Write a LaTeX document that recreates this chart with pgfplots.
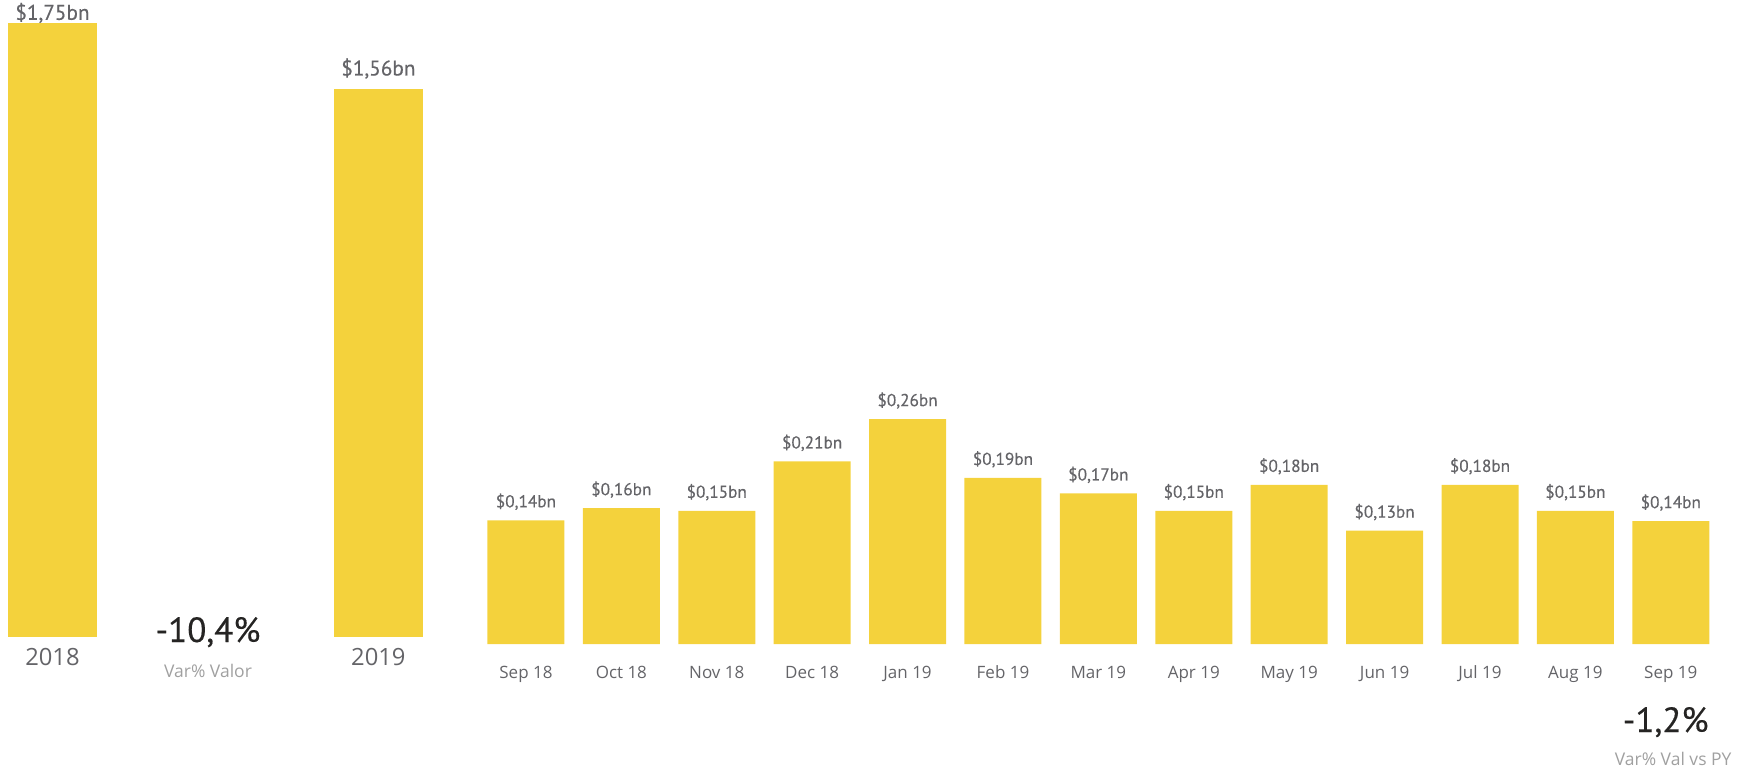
\documentclass[border=0pt]{standalone}
\usepackage{pgfplots}
\pgfplotsset{compat=1.18}
\usepackage{fontspec}
\setmainfont{Open Sans}
\newfontfamily\din{PT Sans}[FakeBold=0.4]
\definecolor{baryel}{RGB}{244,210,60}
\definecolor{lblgray}{RGB}{100,100,104}
\definecolor{darktxt}{RGB}{37,36,35}
\definecolor{lighttxt}{RGB}{160,160,160}
\begin{document}
\begin{tikzpicture}[x=1pt,y=1pt]
\useasboundingbox (0,0) rectangle (698.4,308.4);
% ---- yearly totals ----
\begin{axis}[
  at={(0pt,53.6pt)}, anchor=south west, scale only axis,
  width=176pt, height=252.7pt,
  xmin=-0.161, xmax=1.189, ymin=0, ymax=1.8,
  ybar, bar width=35.6pt,
  axis line style={draw=none}, tick style={draw=none},
  ytick=\empty, xtick={0,1}, xticklabels={2018,2019},
  xticklabel style={anchor=base, yshift=-7.1pt, inner sep=0pt, font=\fontsize{9.5}{11}\selectfont, text=lblgray},
  /pgf/number format/assume math mode=true,
  nodes near coords={\$\pgfmathprintnumber[fixed,fixed zerofill,precision=2,use comma,assume math mode=true]{\pgfplotspointmeta}bn},
  nodes near coords style={anchor=base, inner sep=0pt, font=\din\fontsize{8.5}{10}\selectfont, text=lblgray},
  clip=false,
]
\addplot[fill=baryel, draw=none, bar shift=0pt, every node near coord/.append style={yshift=1.2pt}] coordinates {(0,1.75)};
\addplot[fill=baryel, draw=none, bar shift=0pt, every node near coord/.append style={yshift=5.6pt}] coordinates {(1,1.56)};
\end{axis}
% ---- monthly values ----
\begin{axis}[
  at={(191.3pt,50.8pt)}, anchor=south west, scale only axis,
  width=496.1pt, height=103.8pt,
  xmin=-0.5, xmax=12.5, ymin=0, ymax=0.3,
  ybar, bar width=30.8pt,
  axis line style={draw=none}, tick style={draw=none},
  ytick=\empty, xtick={0,...,12},
  xticklabels={Sep 18,Oct 18,Nov 18,Dec 18,Jan 19,Feb 19,Mar 19,Apr 19,May 19,Jun 19,Jul 19,Aug 19,Sep 19},
  xticklabel style={anchor=base, yshift=-9.6pt, inner sep=0pt, font=\fontsize{6.8}{8}\selectfont, text=lblgray},
  /pgf/number format/assume math mode=true,
  nodes near coords={\$\pgfmathprintnumber[fixed,fixed zerofill,precision=2,use comma,assume math mode=true]{\pgfplotspointmeta}bn},
  nodes near coords style={anchor=base, inner sep=0pt, yshift=5.2pt, font=\din\fontsize{6.9}{8}\selectfont, text=lblgray},
  clip=false,
]
\addplot[fill=baryel, draw=none, bar shift=0pt] coordinates {
  (0,0.143) (1,0.157) (2,0.154) (3,0.211) (4,0.260) (5,0.192) (6,0.174)
  (7,0.154) (8,0.184) (9,0.131) (10,0.184) (11,0.154) (12,0.142)
};
\end{axis}
% ---- KPI texts ----
\node[anchor=base, inner sep=0pt, text=darktxt, font=\din\fontsize{14}{16}\selectfont] at (83.2,51.6) {-10,4\%};
\node[anchor=base, inner sep=0pt, text=lighttxt, font=\fontsize{7}{8}\selectfont] at (83.2,37.6) {Var\% Valor};
\node[anchor=base east, inner sep=0pt, text=darktxt, font=\din\fontsize{14}{16}\selectfont] at (683.6,15.6) {-1,2\%};
\node[anchor=base east, inner sep=0pt, text=lighttxt, font=\fontsize{7}{8}\selectfont] at (692.8,2.4) {Var\% Val vs PY};
\end{tikzpicture}
\end{document}
